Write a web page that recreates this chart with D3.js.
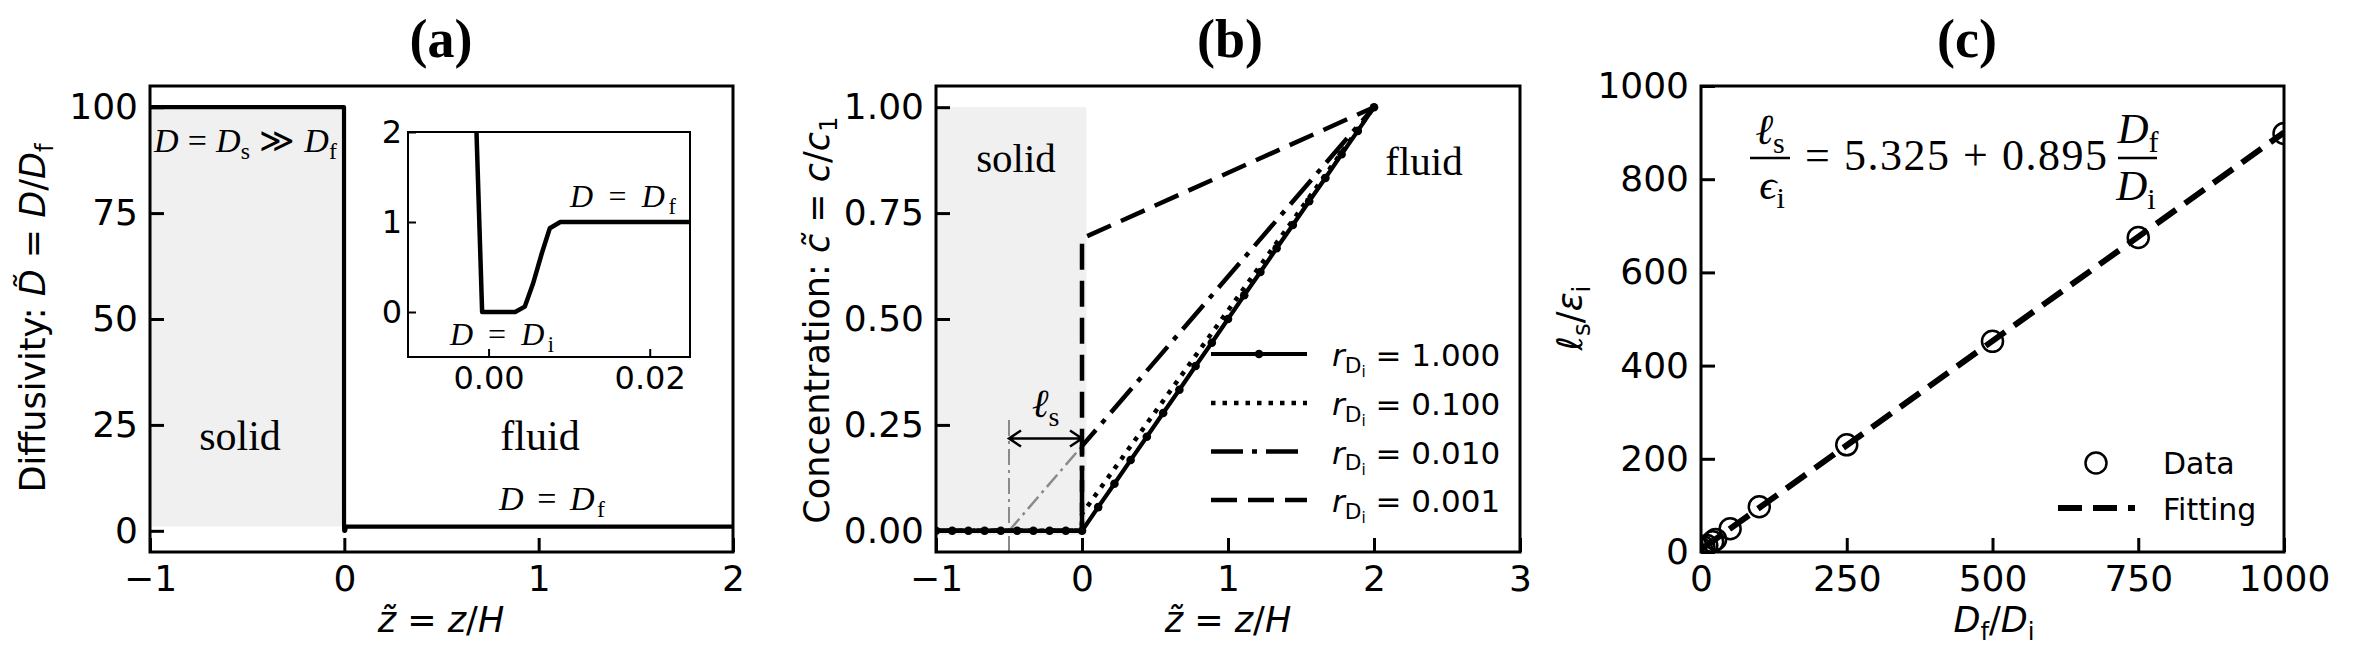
<!DOCTYPE html>
<html><head><meta charset="utf-8">
<script src="https://cdn.jsdelivr.net/npm/d3@7"></script>
<style>body{margin:0;background:#fff}</style>
</head><body>
<svg id="c" width="2374" height="652" xmlns="http://www.w3.org/2000/svg"></svg>
<script>
// ---------------- DATA ----------------
// Panel (a): diffusivity profile
const aXDomain = [-1, 2];
const aYDomain = [-5, 105];
const aXTicks = [-1, 0, 1, 2];
const aYTicks = [0, 25, 50, 75, 100];
const profileZ = [-1, -0.0016, -0.0015, -0.0008, 0.0033, 0.0045, 0.0055, 0.0066, 0.0076, 0.0089, 2];
const profileD = [100, 100, 2.0, 0, 0, 0.06, 0.31, 0.65, 0.93, 1.0, 1.0];
const shadeAZ = [-1, 0];
const shadeAD = [1, 100];
// inset
const insetXDomain = [-0.01, 0.025];
const insetYDomain = [-0.5, 2];
const insetXTicks = [0.00, 0.02];
const insetYTicks = [0, 1, 2];

// Panel (b): concentration profiles
const bXDomain = [-1, 3];
const bYDomain = [-0.05, 1.05];
const bXTicks = [-1, 0, 1, 2, 3];
const bYTicks = [0, 0.25, 0.5, 0.75, 1.0];
const r1Z = [-1, -0.889, -0.778, -0.667, -0.556, -0.444, -0.333, -0.222, -0.111, 0,
             0.111, 0.222, 0.333, 0.444, 0.556, 0.667, 0.778, 0.889, 1.0,
             1.111, 1.222, 1.333, 1.444, 1.556, 1.667, 1.778, 1.889, 2.0];
const r1C = [0, 0, 0, 0, 0, 0, 0, 0, 0, 0,
             0.056, 0.111, 0.167, 0.222, 0.278, 0.333, 0.389, 0.444, 0.5,
             0.556, 0.611, 0.667, 0.722, 0.778, 0.833, 0.889, 0.944, 1.0];
const r01Z = [-1, 0, 0, 2];
const r01C = [0, 0, 0.04, 1.0];
const r001Z = [-1, 0, 0, 2];
const r001C = [0, 0, 0.2, 1.0];
const r0001Z = [-1, 0, 0, 2];
const r0001C = [0, 0, 0.69, 1.0];
const extrapZ = [-0.5, 0];
const extrapC = [0, 0.2];
const lsMarkZ = [-0.5, -0.5];
const lsMarkC = [-0.05, 0.262];
const lsArrowZ = [-0.5, 0];
const lsArrowC = 0.218;
const shadeBZ = [-1, 0.03];
const shadeBC = [-0.01, 1.0];
const legendLabelsB = ["1.000", "0.100", "0.010", "0.001"];

// Panel (c): slip length vs diffusivity ratio
const cXDomain = [0, 1000];
const cYDomain = [0, 1000];
const cXTicks = [0, 250, 500, 750, 1000];
const cYTicks = [0, 200, 400, 600, 800, 1000];
const ratioDfDi = [1, 5, 10, 20, 25, 50, 100, 250, 500, 750, 1000];
const lsOverEps = [6, 10, 14, 22, 27, 50, 97, 230, 452, 675, 898];
const fitX = [0, 1000];
const fitY = [5.3, 900.3];

// ---------------- HELPERS ----------------
const SANS = "'DejaVu Sans', sans-serif";
const SERIF = "'Liberation Serif', 'Times New Roman', 'DejaVu Serif', serif";
const TOP = 86, BOT = 552;
const svg = d3.select('#c');
const defs = svg.append('defs');
svg.append('rect').attr('width', 2374).attr('height', 652).attr('fill', '#fff');

function clip(id, x0, y0, x1, y1) {
  defs.append('clipPath').attr('id', id).append('rect')
    .attr('x', x0).attr('y', y0).attr('width', x1 - x0).attr('height', y1 - y0);
  return `url(#${id})`;
}

function mtext(parent, x, y, parts, o) {
  const t = parent.append('text').attr('x', x).attr('y', y)
    .attr('font-family', o.family).attr('font-size', o.size)
    .attr('text-anchor', o.anchor || 'start').attr('fill', '#000');
  if (o.rotate) t.attr('transform', `rotate(${o.rotate},${x},${y})`);
  if (o.bold) t.attr('font-weight', 'bold');
  const offs = [0, 0.22, 0.36];
  let cur = 0;
  parts.forEach(p => {
    const lvl = p.sub || 0;
    const target = offs[lvl] * o.size;
    const ts = t.append('tspan').text(p.t)
      .attr('font-size', o.size * Math.pow(0.7, lvl))
      .attr('dy', (target - cur).toFixed(2));
    cur = target;
    if (p.i) ts.attr('font-style', 'italic');
  });
  if (o.len) t.attr('textLength', o.len).attr('lengthAdjust', 'spacing');
  return t;
}

function drawAxes(g, xs, ys, xt, yt, xf, yf, o) {
  const ax = g.append('g').attr('transform', `translate(0,${ys.range()[0]})`)
    .call(d3.axisBottom(xs).tickValues(xt).tickFormat(xf)
      .tickSizeInner(-o.len).tickSizeOuter(0).tickPadding(o.xpad));
  const ay = g.append('g').attr('transform', `translate(${xs.range()[0]},0)`)
    .call(d3.axisLeft(ys).tickValues(yt).tickFormat(yf)
      .tickSizeInner(-o.len).tickSizeOuter(0).tickPadding(o.ypad));
  [ax, ay].forEach(a => {
    a.select('.domain').remove();
    a.attr('font-size', null).attr('font-family', null);
    a.selectAll('line').attr('stroke', '#000').attr('stroke-width', o.tw);
    a.selectAll('text').attr('font-size', o.fs).attr('font-family', SANS).attr('fill', '#000');
  });
  g.append('rect').attr('x', xs.range()[0]).attr('y', ys.range()[1])
    .attr('width', xs.range()[1] - xs.range()[0]).attr('height', ys.range()[0] - ys.range()[1])
    .attr('fill', 'none').attr('stroke', '#000').attr('stroke-width', o.fw);
}

const fmtInt = d3.format('d');
const fmt2 = d3.format('.2f');

// ---------------- PANEL (a) ----------------
const gA = svg.append('g');
const xA = d3.scaleLinear().domain(aXDomain).range([150, 733]);
const yA = d3.scaleLinear().domain(aYDomain).range([BOT, TOP]);
const clipA = clip('clipA', 150, TOP, 733, BOT);

gA.append('rect').attr('x', xA(shadeAZ[0])).attr('y', yA(shadeAD[1]))
  .attr('width', xA(shadeAZ[1]) - xA(shadeAZ[0])).attr('height', yA(shadeAD[0]) - yA(shadeAD[1]))
  .attr('fill', '#f0f0f0');

const lineA = d3.line().x(i => xA(profileZ[i])).y(i => yA(profileD[i]));
gA.append('path').attr('d', lineA(d3.range(profileZ.length)))
  .attr('fill', 'none').attr('stroke', '#000').attr('stroke-width', 4.2)
  .attr('stroke-linejoin', 'round').attr('clip-path', clipA);

drawAxes(gA, xA, yA, aXTicks, aYTicks, fmtInt, fmtInt, {len: 14, tw: 3, fw: 3, fs: 36, xpad: 13, ypad: 12});

mtext(gA, 154, 152, [{t: 'D', i: 1}, {t: ' = '}, {t: 'D', i: 1}, {t: 's', sub: 1}, {t: ' ≫ '}, {t: 'D', i: 1}, {t: 'f', sub: 1}],
  {family: SERIF, size: 34, len: 183});
mtext(gA, 240, 450, [{t: 'solid'}], {family: SERIF, size: 42, anchor: 'middle'});
mtext(gA, 540, 450, [{t: 'fluid'}], {family: SERIF, size: 42, anchor: 'middle'});
mtext(gA, 499, 510, [{t: 'D', i: 1}, {t: ' = '}, {t: 'D', i: 1}, {t: 'f', sub: 1}], {family: SERIF, size: 34, len: 106});

// inset
const gI = gA.append('g');
const xI = d3.scaleLinear().domain(insetXDomain).range([408, 690]);
const yI = d3.scaleLinear().domain(insetYDomain).range([357, 132]);
const clipI = clip('clipI', 408, 132, 690, 357);
gI.append('rect').attr('x', 408).attr('y', 132).attr('width', 282).attr('height', 225).attr('fill', '#fff');
const lineI = d3.line().x(i => xI(profileZ[i])).y(i => yI(profileD[i]));
gI.append('path').attr('d', lineI(d3.range(profileZ.length)))
  .attr('fill', 'none').attr('stroke', '#000').attr('stroke-width', 4.5)
  .attr('stroke-linejoin', 'round').attr('clip-path', clipI);
drawAxes(gI, xI, yI, insetXTicks, insetYTicks, fmt2, fmtInt, {len: 8, tw: 2, fw: 2, fs: 32, xpad: 9, ypad: 6});
mtext(gI, 570, 207, [{t: 'D', i: 1}, {t: ' = '}, {t: 'D', i: 1}, {t: 'f', sub: 1}], {family: SERIF, size: 32, len: 106});
mtext(gI, 450, 345, [{t: 'D', i: 1}, {t: ' = '}, {t: 'D', i: 1}, {t: 'i', sub: 1}], {family: SERIF, size: 32, len: 104});

mtext(gA, 441, 57, [{t: '(a)'}], {family: SERIF, size: 54, anchor: 'middle', bold: 1});
mtext(gA, 441, 632, [{t: 'z\u0303', i: 1}, {t: ' = '}, {t: 'z', i: 1}, {t: '/'}, {t: 'H', i: 1}], {family: SANS, size: 35, anchor: 'middle'});
mtext(gA, 45, 318, [{t: 'Diffusivity: '}, {t: 'D\u0303', i: 1}, {t: ' = '}, {t: 'D', i: 1}, {t: '/'}, {t: 'D', i: 1}, {t: 'f', sub: 1}],
  {family: SANS, size: 35, anchor: 'middle', rotate: -90});

// ---------------- PANEL (b) ----------------
const gB = svg.append('g');
const xB = d3.scaleLinear().domain(bXDomain).range([936, 1520]);
const yB = d3.scaleLinear().domain(bYDomain).range([BOT, TOP]);
const clipB = clip('clipB', 936, TOP, 1520, BOT);

gB.append('rect').attr('x', xB(shadeBZ[0])).attr('y', yB(shadeBC[1]))
  .attr('width', xB(shadeBZ[1]) - xB(shadeBZ[0])).attr('height', yB(shadeBC[0]) - yB(shadeBC[1]))
  .attr('fill', '#f0f0f0');

const styles = [
  {z: r1Z, c: r1C, dash: null, w: 4.2},
  {z: r01Z, c: r01C, dash: '4.5 7', w: 4.5},
  {z: r001Z, c: r001C, dash: '32 9 5 9', w: 4.5},
  {z: r0001Z, c: r0001C, dash: '26 11', w: 4.5}
];
// gray guide lines
const guide = d3.line().x(d => xB(d[0])).y(d => yB(d[1]));
gB.append('path').attr('d', guide(lsMarkZ.map((z, i) => [z, lsMarkC[i]])))
  .attr('fill', 'none').attr('stroke', '#8a8a8a').attr('stroke-width', 2).attr('stroke-dasharray', '16 5 3 5')
  .attr('clip-path', clipB);
gB.append('path').attr('d', guide(extrapZ.map((z, i) => [z, extrapC[i]])))
  .attr('fill', 'none').attr('stroke', '#8a8a8a').attr('stroke-width', 2.5).attr('stroke-dasharray', '16 5 3 5')
  .attr('clip-path', clipB);

styles.forEach(s => {
  const p = gB.append('path').attr('d', guide(s.z.map((z, i) => [z, s.c[i]])))
    .attr('fill', 'none').attr('stroke', '#000').attr('stroke-width', s.w)
    .attr('clip-path', clipB);
  if (s.dash) p.attr('stroke-dasharray', s.dash);
});
gB.append('g').attr('clip-path', clipB).selectAll('circle').data(r1Z).join('circle')
  .attr('cx', z => xB(z)).attr('cy', (z, i) => yB(r1C[i])).attr('r', 4.3).attr('fill', '#000');

// ls arrow
{
  const ax0 = xB(lsArrowZ[0]), ax1 = xB(lsArrowZ[1]), ay = yB(lsArrowC);
  const p = d3.path();
  p.moveTo(ax0, ay); p.lineTo(ax1, ay);
  p.moveTo(ax0 + 12, ay - 8); p.lineTo(ax0, ay); p.lineTo(ax0 + 12, ay + 8);
  p.moveTo(ax1 - 12, ay - 8); p.lineTo(ax1, ay); p.lineTo(ax1 - 12, ay + 8);
  gB.append('path').attr('d', p.toString()).attr('fill', 'none').attr('stroke', '#000')
    .attr('stroke-width', 2.5).attr('stroke-linejoin', 'miter');
}
mtext(gB, xB(-0.25), 417, [{t: 'ℓ', i: 1}, {t: 's', sub: 1}], {family: SERIF, size: 40, anchor: 'middle'});

drawAxes(gB, xB, yB, bXTicks, bYTicks, fmtInt, fmt2, {len: 14, tw: 3, fw: 3, fs: 36, xpad: 13, ypad: 12});

mtext(gB, 1016, 172, [{t: 'solid'}], {family: SERIF, size: 41, anchor: 'middle'});
mtext(gB, 1424, 175, [{t: 'fluid'}], {family: SERIF, size: 41, anchor: 'middle'});

// legend (b)
const legY = [354, 403, 451.5, 500];
styles.forEach((s, k) => {
  const l = gB.append('line').attr('x1', 1211).attr('x2', 1307).attr('y1', legY[k]).attr('y2', legY[k])
    .attr('stroke', '#000').attr('stroke-width', s.w);
  if (s.dash) l.attr('stroke-dasharray', s.dash);
  if (k === 0) gB.append('circle').attr('cx', 1259).attr('cy', legY[k]).attr('r', 4.3).attr('fill', '#000');
  mtext(gB, 1332, legY[k] + 12, [{t: 'r', i: 1}, {t: 'D', sub: 1}, {t: 'i', sub: 2}, {t: ' = ' + legendLabelsB[k]}],
    {family: SANS, size: 31});
});

mtext(gB, 1230, 57, [{t: '(b)'}], {family: SERIF, size: 54, anchor: 'middle', bold: 1});
mtext(gB, 1228, 632, [{t: 'z\u0303', i: 1}, {t: ' = '}, {t: 'z', i: 1}, {t: '/'}, {t: 'H', i: 1}], {family: SANS, size: 35, anchor: 'middle'});
mtext(gB, 829, 320, [{t: 'Concentration: '}, {t: 'c\u0303', i: 1}, {t: ' = '}, {t: 'c', i: 1}, {t: '/'}, {t: 'c', i: 1}, {t: '1', sub: 1}],
  {family: SANS, size: 35, anchor: 'middle', rotate: -90});

// ---------------- PANEL (c) ----------------
const gC = svg.append('g');
const xC = d3.scaleLinear().domain(cXDomain).range([1701, 2284]);
const yC = d3.scaleLinear().domain(cYDomain).range([BOT, TOP]);
const clipC = clip('clipC', 1701, TOP, 2284, BOT);

gC.append('path').attr('d', d3.line().x((d, i) => xC(fitX[i])).y((d, i) => yC(fitY[i]))(fitX))
  .attr('fill', 'none').attr('stroke', '#000').attr('stroke-width', 6).attr('stroke-dasharray', '24 11')
  .attr('clip-path', clipC);
gC.append('g').attr('clip-path', clipC).selectAll('circle').data(ratioDfDi).join('circle')
  .attr('cx', d => xC(d)).attr('cy', (d, i) => yC(lsOverEps[i])).attr('r', 10.5)
  .attr('fill', 'none').attr('stroke', '#000').attr('stroke-width', 2.5);

drawAxes(gC, xC, yC, cXTicks, cYTicks, fmtInt, fmtInt, {len: 14, tw: 3, fw: 3, fs: 36, xpad: 13, ypad: 12});

// formula
mtext(gC, 1770, 144, [{t: 'ℓ', i: 1}, {t: 's', sub: 1}], {family: SERIF, size: 43, anchor: 'middle'});
gC.append('line').attr('x1', 1750).attr('x2', 1790).attr('y1', 158).attr('y2', 158).attr('stroke', '#000').attr('stroke-width', 2.6);
mtext(gC, 1772, 199, [{t: 'ϵ', i: 1}, {t: 'i', sub: 1}], {family: SERIF, size: 43, anchor: 'middle'});
mtext(gC, 1805, 170, [{t: '= 5.325 + 0.895'}], {family: SERIF, size: 44, len: 302});
mtext(gC, 2138, 143, [{t: 'D', i: 1}, {t: 'f', sub: 1}], {family: SERIF, size: 43, anchor: 'middle'});
gC.append('line').attr('x1', 2118).attr('x2', 2157).attr('y1', 158).attr('y2', 158).attr('stroke', '#000').attr('stroke-width', 2.6);
mtext(gC, 2136, 200, [{t: 'D', i: 1}, {t: 'i', sub: 1}], {family: SERIF, size: 43, anchor: 'middle'});

// legend (c)
gC.append('circle').attr('cx', 2096).attr('cy', 463).attr('r', 10.5).attr('fill', 'none').attr('stroke', '#000').attr('stroke-width', 2.5);
mtext(gC, 2163, 474, [{t: 'Data'}], {family: SANS, size: 30});
gC.append('line').attr('x1', 2058).attr('x2', 2135).attr('y1', 508).attr('y2', 508)
  .attr('stroke', '#000').attr('stroke-width', 6).attr('stroke-dasharray', '24 11');
mtext(gC, 2163, 520, [{t: 'Fitting'}], {family: SANS, size: 30});

mtext(gC, 1967, 57, [{t: '(c)'}], {family: SERIF, size: 54, anchor: 'middle', bold: 1});
mtext(gC, 1994, 632, [{t: 'D', i: 1}, {t: 'f', sub: 1}, {t: '/'}, {t: 'D', i: 1}, {t: 'i', sub: 1}], {family: SANS, size: 35, anchor: 'middle'});
mtext(gC, 1582, 318, [{t: 'ℓ', i: 1}, {t: 's', sub: 1}, {t: '/'}, {t: 'ε', i: 1}, {t: 'i', sub: 1}],
  {family: SANS, size: 35, anchor: 'middle', rotate: -90});
</script>
</body></html>
